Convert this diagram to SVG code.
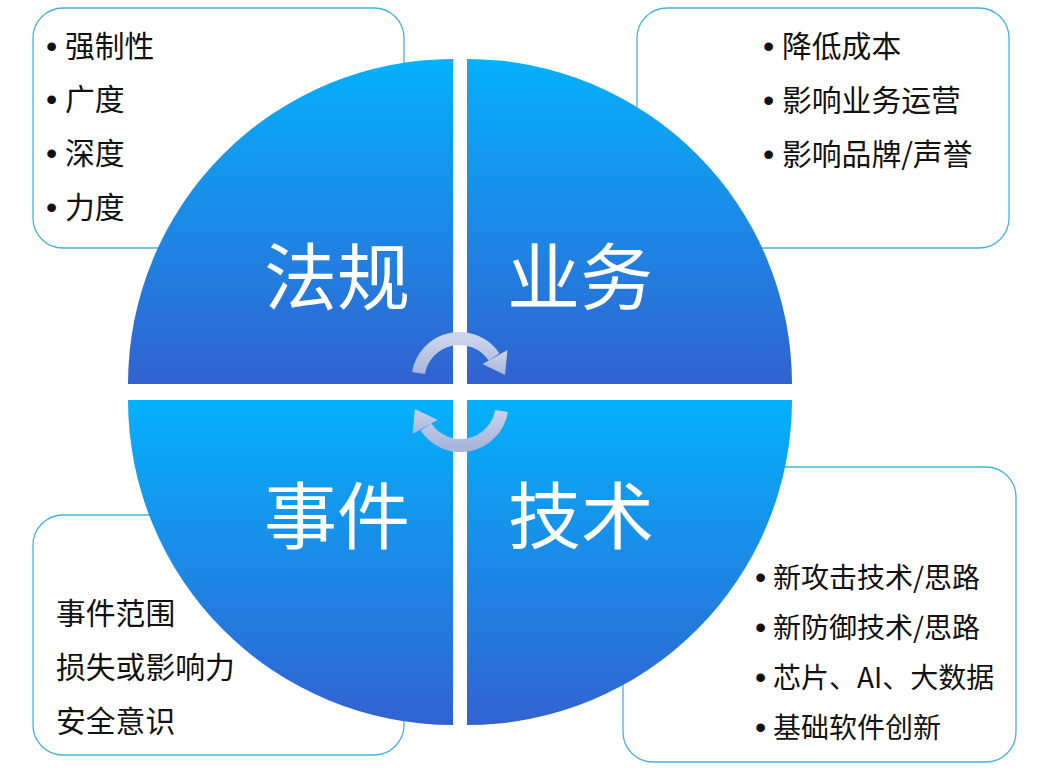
<svg xmlns="http://www.w3.org/2000/svg" width="1037" height="777" viewBox="0 0 1037 777">
<style>
.box{fill:#fff;stroke:#45b3dc;stroke-width:1.3}
.q{fill:url(#qg)}
.lbl{font-family:"Noto Sans CJK SC","Noto Sans",sans-serif;font-size:73px;fill:#fff;text-anchor:middle}
.t{font-family:"Noto Sans CJK SC","Noto Sans",sans-serif;font-size:29.8px;fill:#111}
.t2{font-family:"Noto Sans CJK SC","Noto Sans",sans-serif;font-size:28px;fill:#111}
.b{font-family:"Liberation Sans",sans-serif;font-size:32px}
.arc{fill:none;stroke:url(#ag);stroke-width:13}
.head{fill:url(#ag)}
</style>
<defs>
<linearGradient id="qg" x1="0" y1="0" x2="0" y2="1">
<stop offset="0" stop-color="#05b1fb"/>
<stop offset="1" stop-color="#3162d0"/>
</linearGradient>
<linearGradient id="ag" x1="0" y1="0" x2="0" y2="1">
<stop offset="0" stop-color="#cbd3ec"/>
<stop offset="1" stop-color="#a9b6dc"/>
</linearGradient>
</defs>
<rect width="1037" height="777" fill="#fff"/>
<g id="box-tl">
<rect class="box" x="33" y="8" width="371" height="240" rx="30"/>
<text class="t" y="57"><tspan class="b" x="46">•</tspan><tspan x="65">强制性</tspan></text>
<text class="t" y="110"><tspan class="b" x="46">•</tspan><tspan x="65">广度</tspan></text>
<text class="t" y="164"><tspan class="b" x="46">•</tspan><tspan x="65">深度</tspan></text>
<text class="t" y="218"><tspan class="b" x="46">•</tspan><tspan x="65">力度</tspan></text>
</g>
<g id="box-tr">
<rect class="box" x="637" y="8" width="372" height="240" rx="30"/>
<text class="t" y="57"><tspan class="b" x="763">•</tspan><tspan x="782">降低成本</tspan></text>
<text class="t" y="111"><tspan class="b" x="763">•</tspan><tspan x="782">影响业务运营</tspan></text>
<text class="t" y="165"><tspan class="b" x="763">•</tspan><tspan x="782">影响品牌/声誉</tspan></text>
</g>
<g id="box-bl">
<rect class="box" x="33" y="515" width="371" height="240" rx="30"/>
<text class="t" x="56" y="624">事件范围</text>
<text class="t" x="56" y="678">损失或影响力</text>
<text class="t" x="56" y="732">安全意识</text>
</g>
<g id="box-br">
<rect class="box" x="623" y="467" width="393" height="295" rx="30"/>
<text class="t2" y="588"><tspan class="b" x="755">•</tspan><tspan x="773">新攻击技术/思路</tspan></text>
<text class="t2" y="638"><tspan class="b" x="755">•</tspan><tspan x="773">新防御技术/思路</tspan></text>
<text class="t2" y="688"><tspan class="b" x="755">•</tspan><tspan x="773">芯片、AI、大数据</tspan></text>
<text class="t2" y="738"><tspan class="b" x="755">•</tspan><tspan x="773">基础软件创新</tspan></text>
</g>
<g id="q-fagui">
<path class="q" d="M453,384 H128 A325,325 0 0 1 453,59 Z"/>
<text class="lbl" x="337" y="304">法规</text>
</g>
<g id="q-yewu">
<path class="q" d="M467,384 V59 A325,325 0 0 1 792,384 Z"/>
<text class="lbl" x="580" y="304">业务</text>
</g>
<g id="q-shijian">
<path class="q" d="M453,400 V725 A325,325 0 0 1 128,400 Z"/>
<text class="lbl" x="337" y="543">事件</text>
</g>
<g id="q-jishu">
<path class="q" d="M467,400 H792 A325,325 0 0 1 467,725 Z"/>
<text class="lbl" x="581" y="543">技术</text>
</g>
<g id="connectors">
<path class="arc" d="M418.5,373 A41.5,41.5 0 0 1 494,357"/>
<polygon class="head" points="507.5,350 482.5,364 505,375"/>
<path class="arc" d="M501.5,411 A41.5,41.5 0 0 1 426,427"/>
<polygon class="head" points="412.5,434 437.5,420 415,409"/>
</g>
</svg>
